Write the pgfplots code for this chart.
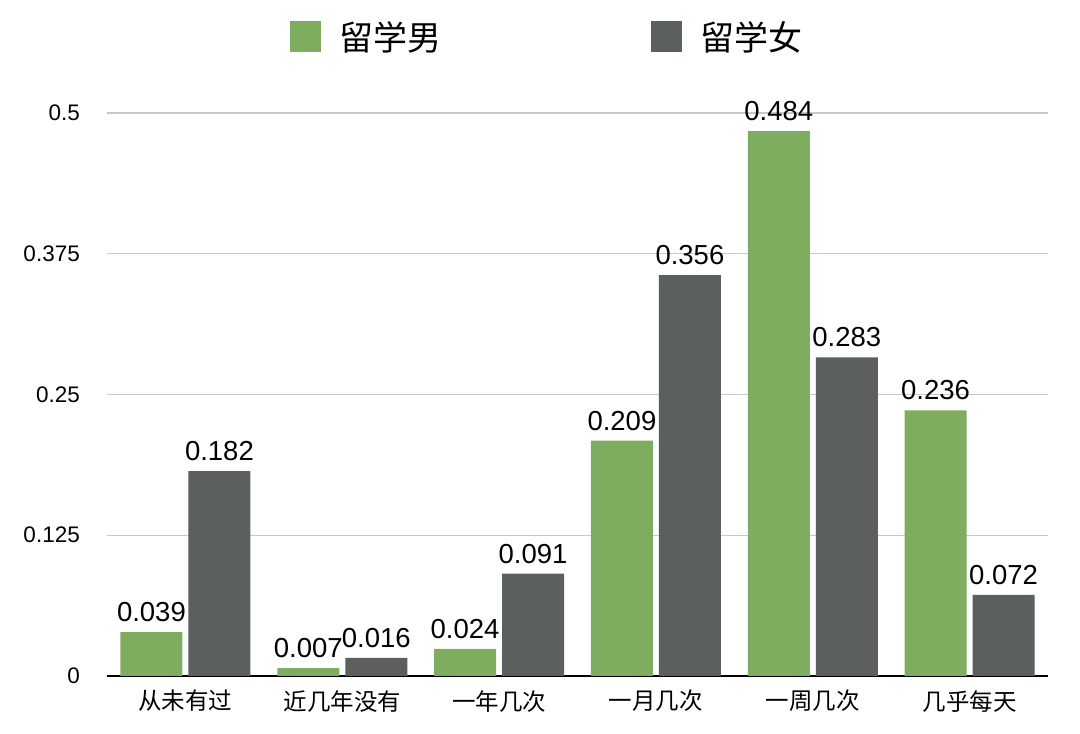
\documentclass[border=0pt]{standalone}
\usepackage{pgfplots}
\pgfplotsset{compat=1.18}
\usepackage{fontspec}
\setmainfont{Liberation Sans}
\newfontfamily\cjk{Noto Sans CJK SC}
\definecolor{mgreen}{HTML}{7EAD5F}
\definecolor{fgray}{HTML}{5B5F5D}
\definecolor{gridgray}{HTML}{C8C8C8}
\begin{document}
\begin{tikzpicture}
\path[use as bounding box] (0,0) rectangle (1080pt,734pt);
\begin{axis}[
  at={(107pt,58pt)}, anchor=south west,
  scale only axis, width=941pt, height=563pt,
  ybar=6pt, bar width=62pt,
  xmin=-0.5, xmax=5.5, ymin=0, ymax=0.5,
  xtick={0,1,2,3,4,5},
  xticklabels={从未有过,近几年没有,一年几次,一月几次,一周几次,几乎每天},
  xticklabel style={font=\cjk\fontsize{23.5}{26}\selectfont, anchor=north, inner sep=0pt, yshift=-14pt},
  ytick={0,0.125,0.25,0.375,0.5},
  yticklabels={0,0.125,0.25,0.375,0.5},
  yticklabel style={font=\fontsize{22.5}{25}\selectfont, anchor=east, inner sep=0pt, xshift=-27pt},
  major tick length=0pt,
  axis x line*=bottom, axis y line*=left,
  x axis line style={black, line width=2pt, -},
  y axis line style={draw=none},
  ymajorgrids, grid style={gridgray, line width=1.3pt},
  clip=false,
  point meta=explicit symbolic,
  nodes near coords,
  every node near coord/.append style={font=\fontsize{27.5}{30}\selectfont, anchor=south, inner sep=0pt, yshift=10pt, black},
  legend columns=2,
  legend style={draw=none, fill=none, at={(0.4676,1.135)}, anchor=center,
    font=\cjk\fontsize{34}{38}\selectfont,
    /tikz/every odd column/.append style={column sep=16pt},
    /tikz/every even column/.append style={column sep=208pt}},
  legend image code/.code={\fill[#1] (0pt,-15.5pt) rectangle (31pt,15.5pt);},
]
\addplot[fill=mgreen, draw=none] coordinates {
  (0,0.039) [0.039]
  (1,0.007) [0.007]
  (2,0.024) [0.024]
  (3,0.209) [0.209]
  (4,0.484) [0.484]
  (5,0.236) [0.236]
};
\addplot[fill=fgray, draw=none] coordinates {
  (0,0.182) [0.182]
  (1,0.016) [0.016]
  (2,0.091) [0.091]
  (3,0.356) [0.356]
  (4,0.283) [0.283]
  (5,0.072) [0.072]
};
\legend{留学男,留学女}
\end{axis}
\end{tikzpicture}
\end{document}
